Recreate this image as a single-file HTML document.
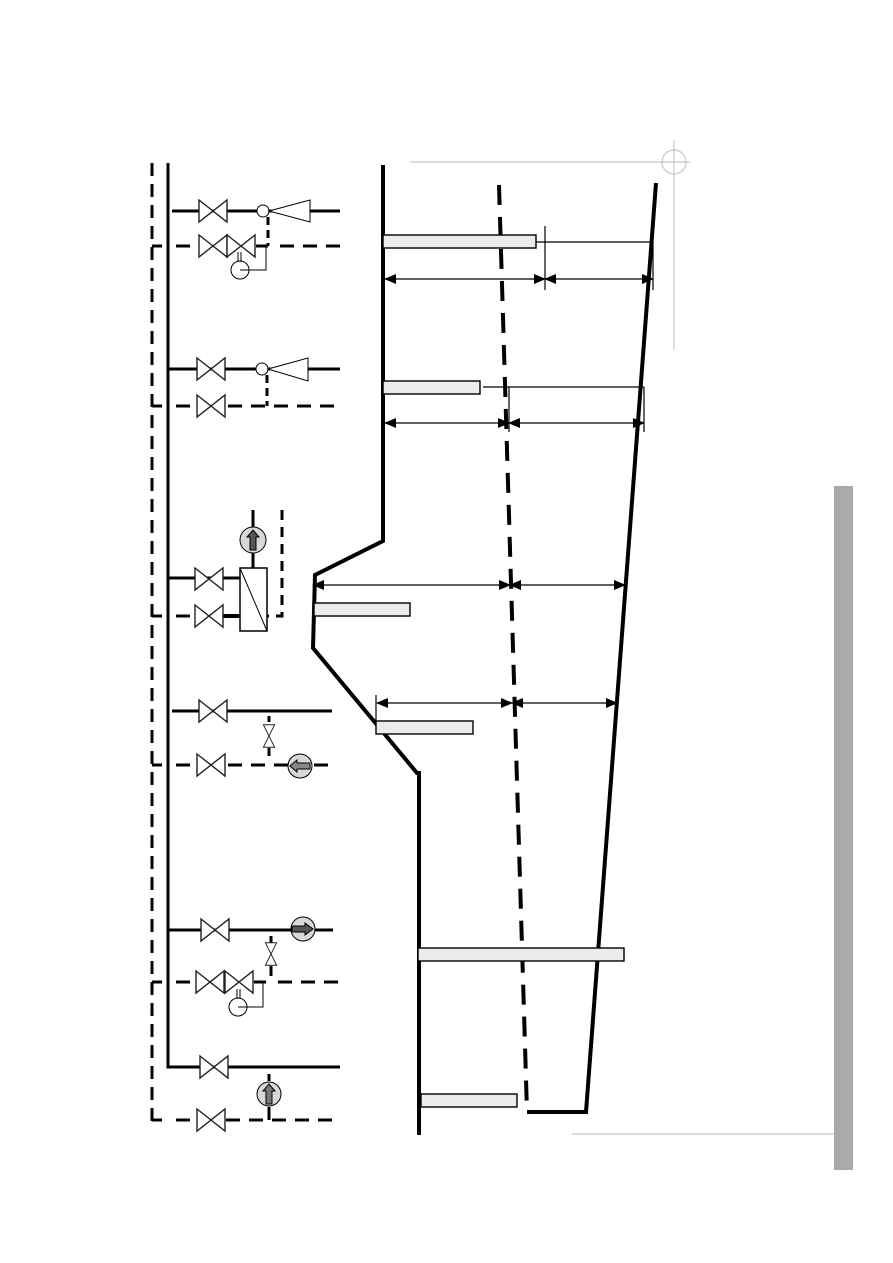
<!DOCTYPE html>
<html><head><meta charset="utf-8"><style>html,body{margin:0;padding:0;background:#fff}svg{display:block}</style></head><body>
<svg width="893" height="1263" viewBox="0 0 893 1263" xmlns="http://www.w3.org/2000/svg">
<defs>
<marker id="ar" markerWidth="12" markerHeight="10" refX="11" refY="5" orient="auto" markerUnits="userSpaceOnUse"><path d="M0,0 L12,5 L0,10z" fill="#000"/></marker>
<g id="v"><path d="M0,-11 L28,11 L28,-11 L0,11z" fill="#fff" stroke="#222" stroke-width="1.4"/></g>
<g id="vv"><path d="M-8,-16 L8,16 L-8,16 L8,-16z" fill="#fff" stroke="#222" stroke-width="1.4"/></g>
</defs>
<g stroke="#c8c8c8" stroke-width="1.2" fill="none">
<line x1="410" y1="162" x2="690" y2="162"/><line x1="674" y1="140" x2="674" y2="350"/><circle cx="674" cy="162" r="12"/>
<line x1="572" y1="1134" x2="853" y2="1134"/>
</g>
<rect x="834" y="486" width="19" height="684" fill="#aaaaaa"/>
<g stroke="#000" stroke-width="3" fill="none">
<line x1="152" y1="163" x2="152" y2="1122" stroke-dasharray="13,8"/>
<polyline points="168,163 168,1067 340,1067"/>
<line x1="172" y1="211" x2="340" y2="211"/>
<line x1="268" y1="217" x2="268" y2="246" stroke-dasharray="8,5"/>
<path d="M152,246 H162 M176,246 H196 M280,246 H340" stroke-dasharray="14,9"/>
<line x1="256" y1="246" x2="268" y2="246"/>
<line x1="168" y1="369" x2="340" y2="369"/>
<line x1="267" y1="375" x2="267" y2="406" stroke-dasharray="8,5"/>
<path d="M152,406 H162 M176,406 H196 M228,406 H340" stroke-dasharray="14,9"/>
<line x1="168" y1="578" x2="240" y2="578"/>
<path d="M152,616 H162 M176,616 H194" stroke-dasharray="14,9"/>
<line x1="223" y1="616" x2="240" y2="616" stroke-width="4"/>
<line x1="253" y1="510" x2="253" y2="527"/><line x1="253" y1="553" x2="253" y2="568"/>
<polyline points="282,510 282,616 267,616" stroke-dasharray="10,7"/>
<line x1="172" y1="711" x2="332" y2="711"/>
<line x1="269" y1="716" x2="269" y2="722"/><line x1="269" y1="748" x2="269" y2="756"/>
<path d="M152,765 H162 M176,765 H196 M228,765 H288 M314,765 H332" stroke-dasharray="14,9"/>
<line x1="168" y1="930" x2="333" y2="930"/>
<line x1="271" y1="936" x2="271" y2="943"/><line x1="271" y1="966" x2="271" y2="976"/>
<path d="M152,982 H162 M176,982 H194 M278,982 H340" stroke-dasharray="14,9"/>
<line x1="254" y1="982" x2="266" y2="982"/>
<line x1="269" y1="1081" x2="269" y2="1074"/>
<path d="M152,1120 H162 M176,1120 H196 M226,1120 H332" stroke-dasharray="14,9"/>
<line x1="269" y1="1107" x2="269" y2="1120"/>
</g>
<use href="#v" x="199" y="211"/><use href="#v" x="199" y="246"/><use href="#v" x="227" y="246"/>
<use href="#v" x="197" y="369"/><use href="#v" x="197" y="406"/>
<use href="#v" x="195" y="579"/><use href="#v" x="195" y="616"/>
<use href="#v" x="199" y="711"/><use href="#v" x="197" y="765"/>
<use href="#v" x="201" y="930"/><use href="#v" x="196" y="982"/><use href="#v" x="225" y="982"/>
<use href="#v" x="200" y="1067"/><use href="#v" x="197" y="1120"/>
<g transform="translate(269,736) scale(0.7)"><use href="#vv"/></g>
<g transform="translate(271,954) scale(0.7)"><use href="#vv"/></g>
<g fill="#fff" stroke="#000" stroke-width="1">
<circle cx="263" cy="211" r="6"/><path d="M269,211 L310,200 L310,222z"/>
<circle cx="262" cy="369" r="6"/><path d="M268,369 L308,358 L308,381z"/>
<circle cx="240" cy="270" r="9"/><polyline points="240,270 266,270 266,246" fill="none"/>
<line x1="238" y1="252" x2="238" y2="262"/><line x1="241" y1="252" x2="241" y2="262"/>
<circle cx="238" cy="1007" r="9"/><polyline points="238,1007 263,1007 263,982" fill="none"/>
<line x1="237" y1="989" x2="237" y2="999"/><line x1="240" y1="989" x2="240" y2="999"/>
<rect x="240" y="568" width="27" height="63" stroke-width="1.5"/><line x1="240" y1="568" x2="267" y2="631"/>
</g>
<g stroke="#000" stroke-width="1">
<circle cx="253" cy="540" r="13" fill="#d8d8d8"/><path d="M250,550 V537 H247 L253,530 L259,537 H256 V550z" fill="#555"/>
<circle cx="300" cy="766" r="12" fill="#d8d8d8"/><path d="M310,763 H297 V760 L290,766 L297,772 V769 H310z" fill="#888"/>
<circle cx="303" cy="929" r="12" fill="#d8d8d8"/><path d="M292,926 H305 V923 L313,929 L305,935 V932 H292z" fill="#555"/>
<circle cx="269" cy="1094" r="12" fill="#d8d8d8"/><path d="M266,1104 V1091 H263 L269,1084 L275,1091 H272 V1104z" fill="#777"/>
</g>
<g stroke="#000" stroke-width="4" fill="none">
<polyline points="383,165 383,541 315,575 313,648 417,773 419,773 419,1135"/>
<line x1="499" y1="185" x2="527" y2="1112" stroke-dasharray="20,12"/>
<polyline points="656,183 586,1112 527,1112"/>
</g>
<g stroke="#000" stroke-width="1.2" fill="none">
<line x1="545" y1="226" x2="545" y2="290"/><line x1="653" y1="242" x2="653" y2="290"/><line x1="536" y1="242" x2="653" y2="242"/>
<line x1="465" y1="279" x2="385" y2="279" marker-end="url(#ar)"/><line x1="465" y1="279" x2="545" y2="279" marker-end="url(#ar)"/>
<line x1="600" y1="279" x2="545" y2="279" marker-end="url(#ar)"/><line x1="600" y1="279" x2="653" y2="279" marker-end="url(#ar)"/>
<line x1="509" y1="387" x2="509" y2="432"/><line x1="644" y1="387" x2="644" y2="432"/><line x1="483" y1="387" x2="644" y2="387"/>
<line x1="450" y1="423" x2="385" y2="423" marker-end="url(#ar)"/><line x1="450" y1="423" x2="509" y2="423" marker-end="url(#ar)"/>
<line x1="575" y1="423" x2="509" y2="423" marker-end="url(#ar)"/><line x1="575" y1="423" x2="644" y2="423" marker-end="url(#ar)"/>
<line x1="410" y1="585" x2="313" y2="585" marker-end="url(#ar)"/><line x1="410" y1="585" x2="510" y2="585" marker-end="url(#ar)"/>
<line x1="565" y1="585" x2="510" y2="585" marker-end="url(#ar)"/><line x1="565" y1="585" x2="625" y2="585" marker-end="url(#ar)"/>
<line x1="376" y1="695" x2="376" y2="721"/>
<line x1="440" y1="703" x2="377" y2="703" marker-end="url(#ar)"/><line x1="440" y1="703" x2="512" y2="703" marker-end="url(#ar)"/>
<line x1="565" y1="703" x2="512" y2="703" marker-end="url(#ar)"/><line x1="565" y1="703" x2="617" y2="703" marker-end="url(#ar)"/>
</g>
<g fill="#ebebeb" stroke="#000" stroke-width="1.4">
<rect x="383" y="235" width="153" height="13"/>
<rect x="383" y="381" width="97" height="13"/>
<rect x="314" y="603" width="96" height="13"/>
<rect x="376" y="721" width="97" height="13"/>
<rect x="418" y="948" width="206" height="13"/>
<rect x="421" y="1094" width="96" height="13"/>
</g>
</svg>
</body></html>
